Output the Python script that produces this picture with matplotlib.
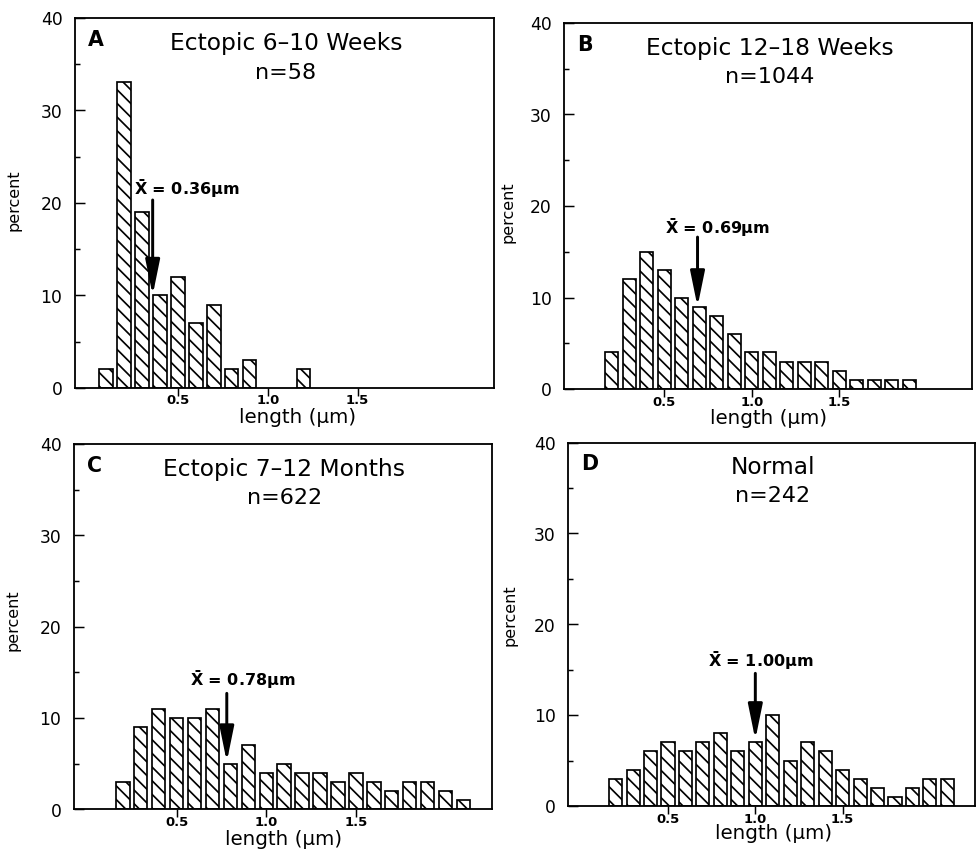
import matplotlib
matplotlib.use("Agg")
import matplotlib.pyplot as plt
from matplotlib.ticker import FixedLocator

# ---------------- data ----------------
titles = ["Ectopic 6\u201310 Weeks", "Ectopic 12\u201318 Weeks", "Ectopic 7\u201312 Months", "Normal"]
panel_letters = ["A", "B", "C", "D"]
n_counts = [58, 1044, 622, 242]
mean_lengths = [0.36, 0.69, 0.78, 1.00]

lengths_A = [0.1, 0.2, 0.3, 0.4, 0.5, 0.6, 0.7, 0.8, 0.9, 1.2]
percent_A = [2, 33, 19, 10, 12, 7, 9, 2, 3, 2]

lengths_B = [0.2, 0.3, 0.4, 0.5, 0.6, 0.7, 0.8, 0.9, 1.0, 1.1, 1.2, 1.3, 1.4, 1.5,
             1.6, 1.7, 1.8, 1.9]
percent_B = [4, 12, 15, 13, 10, 9, 8, 6, 4, 4, 3, 3, 3, 2, 1, 1, 1, 1]

lengths_C = [0.2, 0.3, 0.4, 0.5, 0.6, 0.7, 0.8, 0.9, 1.0, 1.1, 1.2, 1.3, 1.4, 1.5,
             1.6, 1.7, 1.8, 1.9, 2.0, 2.1]
percent_C = [3, 9, 11, 10, 10, 11, 5, 7, 4, 5, 4, 4, 3, 4, 3, 2, 3, 3, 2, 1]

lengths_D = [0.2, 0.3, 0.4, 0.5, 0.6, 0.7, 0.8, 0.9, 1.0, 1.1, 1.2, 1.3, 1.4, 1.5,
             1.6, 1.7, 1.8, 1.9, 2.0, 2.1]
percent_D = [3, 4, 6, 7, 6, 7, 8, 6, 7, 10, 5, 7, 6, 4, 3, 2, 1, 2, 3, 3]

all_lengths = [lengths_A, lengths_B, lengths_C, lengths_D]
all_percent = [percent_A, percent_B, percent_C, percent_D]

x_ticks = [0.5, 1.0, 1.5]
x_tick_labels = ["0.5", "1.0", "1.5"]
y_ticks = [0, 10, 20, 30, 40]
y_minor_ticks = [5, 15, 25, 35]

# ---------------- layout (pixels of the 980x852 canvas) ----------------
W, H = 980, 852
DPI = 82
boxes = [  # left, right, top, bottom
    (75, 494, 18, 388),
    (564, 972, 23, 389.3),
    (74, 492, 444.3, 809.3),
    (568, 975, 442.7, 806),
]
# annotation geometry: arrow tail/tip (y data), text anchor (x,y data)
arrow_tail = [20.3, 16.6, 12.7, 14.6]
arrow_tip = [10.0, 9.0, 5.2, 7.3]
text_xy = [(0.258, 21.6), (0.506, 17.7), (0.577, 14.2), (0.728, 16.1)]
ylabel_off_px = [-54, -49, -54, -51]
ylabel_y = [0.508, 0.485, 0.518, 0.526]
xlabel_xy = [(0.531, -0.054), (0.502, -0.054), (0.500, -0.057), (0.504, -0.048)]

plt.rcParams["font.family"] = "DejaVu Sans"
plt.rcParams["hatch.linewidth"] = 1.5

fig = plt.figure(figsize=((W + 0.3) / DPI, (H + 0.3) / DPI), dpi=DPI)
fig.patch.set_facecolor("white")

for i in range(4):
    l, r, t, b = boxes[i]
    ax = fig.add_axes([l / W, 1 - b / H, (r - l) / W, (b - t) / H])
    ax.bar(all_lengths[i], all_percent[i], width=0.075, facecolor="white",
           edgecolor="black", linewidth=1.5, hatch="\\\\", zorder=2)
    ax.set_xlim(-0.072, 2.26)
    ax.set_ylim(0, 40)

    for s in ax.spines.values():
        s.set_linewidth(1.6)

    ax.set_xticks(x_ticks)
    ax.set_xticklabels(x_tick_labels, fontweight="bold", fontsize=11.5)
    ax.tick_params(axis="x", direction="out", length=7, width=1.3, pad=-1.5)
    ax.set_yticks(y_ticks)
    ax.yaxis.set_minor_locator(FixedLocator(y_minor_ticks))
    ax.tick_params(axis="y", which="major", direction="in", length=8.8, width=1.3,
                   pad=11, labelsize=15)
    ax.tick_params(axis="y", which="minor", direction="in", length=4.4, width=1.3)

    ax.set_ylabel("percent", fontsize=14)
    ax.yaxis.set_label_coords(ylabel_off_px[i] / (r - l), ylabel_y[i])
    ax.set_xlabel("length (\u00b5m)", fontsize=17.5)
    ax.xaxis.set_label_coords(*xlabel_xy[i])
    ax.xaxis.label.set_va("top")

    ax.text(0.031, 0.941, panel_letters[i], transform=ax.transAxes, fontsize=18,
            fontweight="bold", ha="left", va="center")
    ax.text(0.503, 0.914, titles[i], transform=ax.transAxes, fontsize=20.5,
            ha="center", va="baseline")
    ax.text(0.503, 0.836, f"n={n_counts[i]}", transform=ax.transAxes, fontsize=19.5,
            ha="center", va="baseline")

    m = mean_lengths[i]
    ax.annotate("", xy=(m, arrow_tip[i]), xytext=(m, arrow_tail[i]),
                arrowprops=dict(arrowstyle="-|>,head_length=2.6,head_width=0.53",
                                mutation_scale=10, lw=2.6, color="black",
                                shrinkA=0, shrinkB=0), zorder=5)
    ax.text(text_xy[i][0], text_xy[i][1],
            r"$\mathbf{\bar{X}}$" + f" = {m:.2f}\u00b5m",
            fontsize=14, fontweight="bold", ha="left", va="center", zorder=5)

fig.savefig("out.png", dpi=DPI, facecolor="white")
